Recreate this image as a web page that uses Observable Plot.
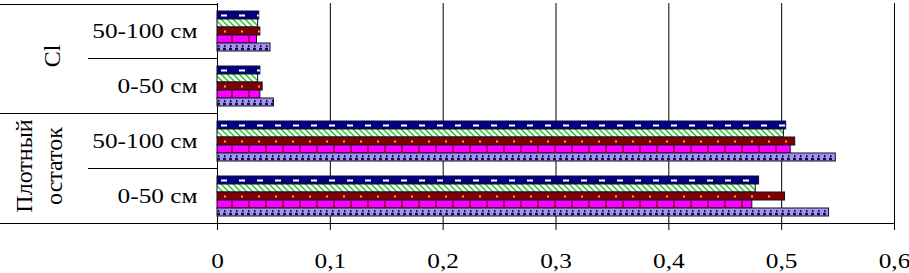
<!DOCTYPE html>
<html><head><meta charset="utf-8">
<script src="https://cdn.jsdelivr.net/npm/d3@7"></script>
<script src="https://cdn.jsdelivr.net/npm/@observablehq/plot@0.6"></script>
<style>
body{margin:0;background:#fff}
svg{font-family:"Liberation Serif","Times New Roman",serif;color:#000}
</style>
</head><body><div id="chart"></div>
<script>
const categories = ["Cl|50-100 см", "Cl|0-50 см", "Плотный остаток|50-100 см", "Плотный остаток|0-50 см"];
const series = ["Ряд 1", "Ряд 2", "Ряд 3", "Ряд 4", "Ряд 5"];
const valuesCl50100 = [0.037, 0.036, 0.038, 0.035, 0.047];
const valuesCl050 = [0.038, 0.036, 0.040, 0.038, 0.050];
const valuesResidue50100 = [0.504, 0.502, 0.512, 0.508, 0.548];
const valuesResidue050 = [0.480, 0.477, 0.503, 0.474, 0.542];
const xTicks = [0, 0.1, 0.2, 0.3, 0.4, 0.5, 0.6];
const groupLabels = [["Cl"], ["Плотный", "остаток"]];

const valuesByCat = [valuesCl50100, valuesCl050, valuesResidue50100, valuesResidue050];
const data = categories.flatMap((c, i) => series.map((s, j) => ({cat: c, s, v: valuesByCat[i][j]})));
const seriesFill = ["#000080", "url(#hatchGreen)", "#800000", "#ff00ff", "#a394ee"];
const of = j => data.filter(d => d.s === series[j]);
const overlay = (j, o) => Plot.ruleY(of(j), {fy: "cat", y: "s", x1: d => 0, x2: "v", ...o});

const chart = Plot.plot({
  width: 909, height: 273,
  marginTop: 1, marginBottom: 49, marginLeft: 217, marginRight: 15,
  style: {fontSize: "22px", fontFamily: "Liberation Serif, Times New Roman, serif", background: "#fff"},
  x: {domain: [0, 0.6], ticks: 6, tickSize: 7, tickPadding: 22, label: null,
      tickFormat: d => String(+(+d).toFixed(1)).replace(".", ",")},
  y: {axis: null, domain: series, paddingInner: 0, paddingOuter: 0.8},
  fy: {domain: categories, padding: 0, label: null, tickSize: 0, tickPadding: 20,
       tickFormat: d => d.split("|")[1]},
  color: {domain: series, range: seriesFill},
  marks: [
    Plot.ruleX(xTicks, {stroke: "#000", strokeWidth: 1}),
    Plot.barX(data, {fy: "cat", y: "s", x: "v", fill: "s", stroke: "#10102a", strokeWidth: 1}),
    overlay(0, {stroke: "#fff", strokeWidth: 2, strokeDasharray: "6,12", strokeDashoffset: -4}),
    overlay(2, {stroke: "#ffa040", strokeWidth: 2, strokeDasharray: "2,15", strokeDashoffset: -7}),
    overlay(3, {stroke: "#9a0040", strokeWidth: 7, strokeDasharray: "2,15", strokeDashoffset: -14}),
    overlay(4, {stroke: "#1a0a4a", strokeWidth: 2.5, dy: 1.5, strokeDasharray: "3,3"}),
    overlay(4, {stroke: "#1a0a4a", strokeWidth: 2, dy: -1.5, strokeDasharray: "1.5,4.5", strokeDashoffset: -1})
  ]
});
document.getElementById("chart").appendChild(chart);

const svg = d3.select(chart);
const defs = svg.insert("defs", ":first-child");
const pat = defs.append("pattern").attr("id", "hatchGreen").attr("patternUnits", "userSpaceOnUse")
  .attr("width", 6).attr("height", 6);
pat.append("rect").attr("width", 6).attr("height", 6).attr("fill", "#fff");
pat.append("path").attr("d", "M0,0L6,6M-1,5L1,7M5,-1L7,1").attr("stroke", "#22c422").attr("stroke-width", 1.4);

// Left label column frame lines, from the fy scale
const fyS = chart.scale("fy");
const xLeft = 217, plotTop = 1;
const step = fyS.step ?? fyS.bandwidth ?? (224 - plotTop) / categories.length;
const fyTop = c => (fyS.apply ? fyS.apply(c) : plotTop + categories.indexOf(c) * step);
const plotBottom = fyTop(categories[3]) + step;
const g = svg.append("g").attr("stroke", "#000").attr("stroke-width", 1);
const line = (xa, xb, y) => g.append("line").attr("x1", xa).attr("x2", xb).attr("y1", Math.round(y) + 0.5).attr("y2", Math.round(y) + 0.5);
line(0, xLeft, fyTop(categories[0]) + 1);
line(88, xLeft, fyTop(categories[1]));
line(0, xLeft, fyTop(categories[2]));
line(88, xLeft, fyTop(categories[3]));
line(0, 894, plotBottom);

// stretch horizontal texts (reference is horizontally stretched)
svg.selectAll("text").each(function() {
  const L = this.getComputedTextLength();
  this.setAttribute("textLength", L * 1.15);
  this.setAttribute("lengthAdjust", "spacingAndGlyphs");
});

// Rotated group labels
const tg = svg.append("g").attr("font-size", 24).attr("fill", "#000").attr("text-anchor", "middle");
const clMid = (fyTop(categories[0]) + fyTop(categories[1]) + step) / 2;
const resMid = (fyTop(categories[2]) + fyTop(categories[3]) + step) / 2;
tg.append("text").attr("transform", `translate(60,${clMid - 2}) rotate(-90)`).text(groupLabels[0][0]);
tg.append("text").attr("transform", `translate(32,${resMid - 2}) rotate(-90)`).text(groupLabels[1][0]);
tg.append("text").attr("transform", `translate(62,${resMid - 2}) rotate(-90)`).text(groupLabels[1][1]);
</script>
</body></html>
